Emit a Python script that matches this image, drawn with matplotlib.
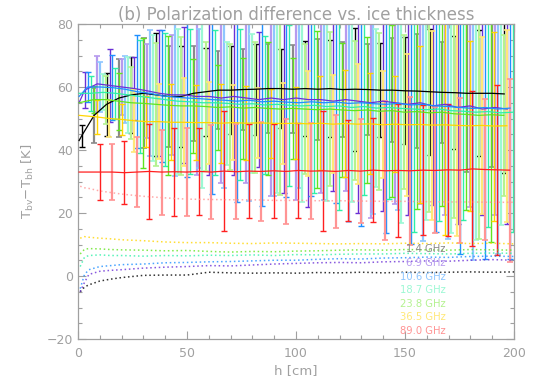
import numpy as np
import matplotlib
matplotlib.use("Agg")
import matplotlib.pyplot as plt

# frequencies, colours (dark for lines/bars, light for alternate bars and labels)
labels = ["1.4 GHz", "6.9 GHz", "10.6 GHz", "18.7 GHz", "23.8 GHz", "36.5 GHz", "89.0 GHz"]
dark = ["#000000", "#6a2fd6", "#1e8fff", "#2ef0a8", "#62e41e", "#ffd500", "#ff2020"]
light = ["#8a8a8a", "#b69aee", "#8ec6ff", "#9cf8d4", "#b4f290", "#ffe878", "#ff9494"]

# h of first error bar for each channel, bars every 5.7 cm
bar_start = [1.7, 3.1, 4.4, 5.8, 7.2, 8.6, 9.9]
bar_step = 5.7
# value of the mean curve at h = 0.5 cm
line_start = [43.0, 55.0, 57.0, 58.0, 55.0, 51.0, 33.0]

# mean Tbv-Tbh at the error bar positions, and standard deviations
mean_14 = [44.5, 51.0, 54.5, 56.5, 57.5, 58.0, 57.5, 57.0, 57.0, 58.0, 58.5, 59.0, 59.0, 59.2, 59.3,
           59.5, 59.5, 59.3, 59.5, 59.3, 59.5, 59.2, 59.3, 59.2, 59.0, 59.0, 58.8, 58.7, 58.5, 58.3,
           58.2, 58.0, 58.0, 58.0, 57.8]
std_14 = [3.5, 8.7, 10, 12.5, 12, 17.5, 19.5, 16, 16, 15, 14, 12.3, 14, 13, 14.5, 14, 12.5, 14, 15, 16,
          15.5, 15, 19.5, 14.5, 15, 16.5, 17, 18, 20, 16, 18, 25, 20, 23.5, 25]

mean_69 = [59, 61, 60.5, 60, 59.5, 58.8, 58, 57.5, 57.5, 57, 57, 56.5, 57, 56.5, 56, 56.5, 56, 56.5,
           56, 56, 55.5, 56, 55.5, 55, 55.5, 55, 54.5, 55, 54, 54.5, 53.5, 54, 53, 53.5, 53]
std_69 = [5.8, 9, 11.6, 9, 10, 15, 20, 19, 21.5, 25, 25, 27, 25, 27, 21.5, 31, 29.5, 32.5, 34, 29.5,
          28.5, 29, 35.5, 36.5, 35, 32, 35, 32, 31.5, 35, 37, 32, 33.5, 34, 36.5]

mean_106 = [60, 60, 59.8, 59.3, 58.5, 58, 57.2, 56.8, 56.5, 56.3, 56, 55.8, 55.5, 55.8, 55.3, 55.5,
            55.2, 55, 55.3, 55, 55.2, 54.8, 55, 54.7, 54.5, 54.8, 54.3, 54.5, 54, 53.8, 53.5, 53.2,
            53.5, 53, 53.3]
std_106 = [4.8, 8, 10.3, 10.7, 18, 20, 21, 25, 25, 22, 30, 28, 32, 32, 33, 30, 30, 27, 30, 31, 32,
           37.5, 39, 35, 41, 34, 44, 43.5, 40, 42, 46.5, 48, 48, 46, 48]

mean_187 = [58, 58.3, 58, 57.5, 57, 56.5, 56, 55.5, 55.3, 55, 55, 54.8, 54.5, 54.7, 54.3, 54.5, 54.2,
            54, 54.2, 53.8, 54, 53.5, 53.8, 53.3, 53.5, 53.2, 53, 52.8, 53, 52.5, 52.3, 52, 52.2,
            51.8, 52]
std_187 = [5.5, 5.7, 8, 12, 18, 20, 21, 23, 23, 27, 23, 19.6, 24, 22, 22, 28, 25.5, 30.5, 28, 30, 33,
           30, 28, 25, 29, 36.5, 39, 35, 35.5, 39, 34.5, 40.5, 36.5, 35.5, 38]

mean_238 = [56, 56, 55.5, 55, 54.8, 54.5, 54.2, 54, 54, 53.8, 53.5, 53.7, 53.3, 53.5, 53.2, 53, 53.2,
            53, 52.8, 53, 52.7, 52.5, 52.7, 52.3, 52.5, 52, 52.2, 51.8, 52, 51.5, 51.3, 51, 51.2, 51]
std_238 = [4.3, 7.6, 9, 11.5, 20.6, 19.5, 22, 22, 15, 20.5, 13.5, 20, 16, 20.7, 21, 27.3, 16, 20.7,
           25, 24.4, 21.3, 22, 23.2, 25, 27.3, 24.4, 30.8, 31.4, 29.8, 33, 30.3, 39.3, 40.4, 25.5]

mean_365 = [50.5, 50, 49.7, 49.3, 49, 49, 48.8, 48.8, 48.7, 48.7, 48.5, 48.7, 48.5, 48.6, 48.5, 48.4,
            48.5, 48.3, 48.5, 48.2, 48.4, 48.2, 48.3, 48, 48.2, 48, 48.1, 47.9, 48, 47.8, 47.7, 47.8,
            47.6, 47.7]
std_365 = [5.5, 6, 5, 10, 8, 12, 12, 14, 12, 13, 12.5, 12, 11.7, 11, 11, 13, 11.5, 16.7, 15, 15.5,
           17, 19, 16, 17, 15.3, 22.6, 24.8, 30, 35, 35, 27, 28, 30, 30.5]

mean_890 = [33, 33, 32.8, 33, 33.2, 33, 33.1, 33, 33.2, 33, 33.3, 33.1, 33.3, 33.2, 33.4, 33.2, 33.5,
            33.3, 33.4, 33.2, 33.5, 33.3, 33.6, 33.4, 33.5, 33.4, 33.6, 33.5, 33.7, 33.6, 34, 33.8,
            33.7, 33.6]
std_890 = [9, 9, 10, 11, 15, 13.5, 14, 14, 13.7, 15, 19, 15, 15, 15.7, 15, 16.6, 15, 15.3, 19, 18,
           16, 16.6, 16.6, 22, 21, 23.5, 20.6, 20, 21, 23, 24.6, 22.5, 27, 29]

# dotted curves
h_dot = [1, 3, 5, 10, 15, 20, 30, 40, 50, 60, 70, 80, 90, 100, 110, 120, 130, 140, 150, 160, 170,
         180, 190, 200]
dot_14 = [-5, -3.5, -2.8, -1.6, -1, -0.5, 0.2, 0.3, 0.3, 1.2, 1, 0.9, 1, 0.9, 1.1, 1, 1.2, 1, 1.2,
          1.1, 1.2, 1.3, 1.2, 1.3]
dot_69 = [-5, -2, 0.5, 1.5, 1.8, 2, 2.5, 2.8, 3, 3.3, 3.2, 3.5, 3.8, 4, 4.2, 4.3, 4.2, 4.5, 4.6, 4.8,
          4.7, 5, 5.2, 5]
dot_106 = [-4, 0.5, 2, 3, 3.3, 3.6, 3.8, 4.2, 4.3, 4.5, 4.6, 4.8, 5, 5, 5.3, 5.5, 5.4, 5.7, 5.8, 6,
           5.9, 6.2, 6.3, 6.2]
dot_187 = [3, 6, 6.5, 6.7, 6.5, 6.5, 6.3, 6.5, 6.4, 6.6, 6.5, 6.7, 6.5, 6.8, 6.7, 6.9, 7, 7, 7.2,
           7.1, 7, 7.2, 7.3, 7.2]
dot_238 = [7, 8.5, 8.7, 8.6, 8.4, 8.3, 8.2, 8, 8.1, 7.8, 7.6, 7.8, 7.7, 7.9, 8, 8.2, 8.3, 8.2, 8.4,
           8.3, 8.2, 8.4, 8.3, 8.2]
dot_365 = [12, 12.5, 12.3, 12, 11.8, 11.5, 11.2, 10.8, 10.6, 10.6, 10.4, 10.3, 10.5, 10.4, 10.3,
           10.2, 10.3, 10.2, 10.4, 10.3, 10.5, 10.3, 10.4, 10.2]
dot_890 = [28.5, 28, 27.8, 27, 26.5, 26, 25.3, 24.8, 24.4, 24.3, 24.2, 24.2, 24, 24, 23.9, 23.9,
           23.8, 23.7, 23.7, 23.6, 23.5, 23.5, 23.4, 23.4]

means = [mean_14, mean_69, mean_106, mean_187, mean_238, mean_365, mean_890]
stds = [std_14, std_69, std_106, std_187, std_238, std_365, std_890]
dots = [dot_14, dot_69, dot_106, dot_187, dot_238, dot_365, dot_890]

grey = "#a0a0a0"
plt.rcParams["mathtext.default"] = "regular"

fig = plt.figure(figsize=(5.38, 3.89), dpi=100)
ax = fig.add_axes([78 / 538, 50 / 389, 436 / 538, 315 / 389])

# error bars (alternating dark / light like the original)
for i in range(7):
    m = np.array(means[i])
    s = np.array(stds[i])
    h = bar_start[i] + bar_step * np.arange(len(m))
    ev = np.arange(len(m)) % 2 == 0
    ax.errorbar(h[ev], m[ev], yerr=s[ev], fmt="none", ecolor=dark[i], elinewidth=1.0,
                capsize=2.2, capthick=1.0, zorder=2)
    ax.errorbar(h[~ev], m[~ev], yerr=s[~ev], fmt="none", ecolor=light[i], elinewidth=1.6,
                capsize=2.2, capthick=1.2, zorder=2)

# mean curves
for i in range(7):
    h = bar_start[i] + bar_step * np.arange(len(means[i]))
    ax.plot(np.r_[0.5, h], np.r_[line_start[i], means[i]], color=dark[i], lw=0.9, zorder=3)

# dotted curves
for i in range(7):
    ax.plot(h_dot, dots[i], color=light[i] if i == 6 else dark[i], lw=1.1,
            ls=(0, (1, 1.8)), alpha=0.8, zorder=3)

# channel labels
for i, lab in enumerate(labels):
    ax.text(168.7, 8.5 - 4.33 * i, lab, ha="right", va="center", fontsize=7.2,
            color=light[i])

ax.set_xlim(0, 200)
ax.set_ylim(-20, 80)
ax.set_xticks([0, 50, 100, 150, 200])
ax.set_xticks(np.arange(0, 201, 10), minor=True)
ax.set_yticks([-20, 0, 20, 40, 60, 80])
ax.set_yticks(np.arange(-20, 81, 5), minor=True)
ax.tick_params(which="both", direction="in", top=True, right=True, colors=grey,
               labelcolor=grey, labelsize=9)
ax.tick_params(which="major", length=5.5, width=0.8)
ax.tick_params(which="minor", length=3, width=0.8)
ax.tick_params(axis="x", pad=6)
for sp in ax.spines.values():
    sp.set_color(grey)
    sp.set_linewidth(0.9)

ax.set_xlabel("h [cm]", color=grey, fontsize=9.5, labelpad=3)
ax.set_ylabel(r"T$_{bv}$$-$T$_{bh}$ [K]", color=grey, fontsize=9.5, labelpad=8)
ax.set_title("(b) Polarization difference vs. ice thickness", color=grey, fontsize=12, pad=3)

fig.savefig("out.png", dpi=100)
